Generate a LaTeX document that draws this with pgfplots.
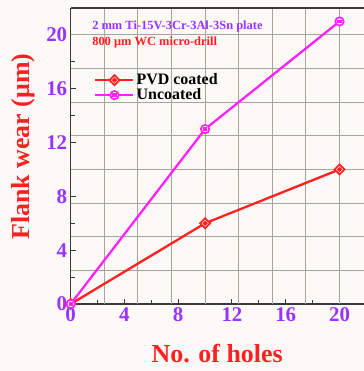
\documentclass[border=0pt]{standalone}
\usepackage{fontspec}
\setmainfont{Liberation Serif}
\usepackage{pgfplots}
\pgfplotsset{compat=1.18}

\definecolor{bgcream}{HTML}{FDF9F6}
\definecolor{tickpurple}{HTML}{9933FF}
\definecolor{wearred}{HTML}{FF2020}
\definecolor{uncmag}{HTML}{FF22FF}
\definecolor{gridgray}{HTML}{A9A39D}
\definecolor{axisgray}{HTML}{3A3A3A}

% open diamond with a small inner diamond
\pgfdeclareplotmark{diamonddot}{%
  \pgfpathmoveto{\pgfqpoint{0pt}{\pgfplotmarksize}}%
  \pgfpathlineto{\pgfqpoint{\pgfplotmarksize}{0pt}}%
  \pgfpathlineto{\pgfqpoint{0pt}{-\pgfplotmarksize}}%
  \pgfpathlineto{\pgfqpoint{-\pgfplotmarksize}{0pt}}%
  \pgfpathclose
  \pgfusepathqfillstroke
  \pgfpathmoveto{\pgfqpoint{0pt}{0.3\pgfplotmarksize}}%
  \pgfpathlineto{\pgfqpoint{0.3\pgfplotmarksize}{0pt}}%
  \pgfpathlineto{\pgfqpoint{0pt}{-0.3\pgfplotmarksize}}%
  \pgfpathlineto{\pgfqpoint{-0.3\pgfplotmarksize}{0pt}}%
  \pgfpathclose
  \pgfusepathqstroke
}
% open circle with a small inner rectangle
\pgfdeclareplotmark{circledot}{%
  \pgfpathcircle{\pgfpointorigin}{\pgfplotmarksize}%
  \pgfusepathqfillstroke
  \pgfpathrectangle{\pgfqpoint{-0.3\pgfplotmarksize}{-0.2\pgfplotmarksize}}{\pgfqpoint{0.6\pgfplotmarksize}{0.4\pgfplotmarksize}}%
  \pgfusepathqstroke
}

\begin{document}
\begin{tikzpicture}
\fill[bgcream] (-70.7bp,-67bp) rectangle (293.3bp,304bp);
\begin{axis}[
  scale only axis, width=293bp, height=296bp,
  at={(0,0)}, anchor=south west,
  xmin=0, xmax=21.8, ymin=0, ymax=22,
  axis x line*=bottom, axis y line*=left,
  axis line style={line width=1.2bp, color=axisgray, -},
  axis background/.style={fill=bgcream},
  xtick={0,4,...,20}, ytick={0,4,...,20},
  minor xtick={2,6,...,18}, minor ytick={2,6,...,18},
  tick style={color=axisgray, line width=1bp},
  major tick length=5bp, minor tick length=4bp,
  tick align=inside,
  extra x ticks={2.5,5,...,20}, extra x tick labels={},
  extra y ticks={2.5,5,...,20}, extra y tick labels={},
  extra tick style={grid=major, major tick length=0pt,
    major grid style={gridgray, line width=1bp}},
  /pgf/number format/assume math mode=true,
  ticklabel style={font=\fontsize{21}{21}\selectfont\bfseries, text=tickpurple},
  xlabel={No. of holes},
  ylabel={Flank wear (μm)},
  label style={font=\fontsize{26}{26}\selectfont\bfseries, text=wearred},
  xlabel style={at={(axis description cs:0.5,-0.196)}, anchor=base},
  ylabel style={at={(axis description cs:-0.1413,0.532)}, anchor=base},
  clip mode=individual,
  legend style={at={(axis description cs:0.08,0.785)}, anchor=north west,
    draw=none, fill=none, font=\fontsize{16}{17}\selectfont\bfseries,
    row sep=-1.5bp, inner sep=0pt},
  legend cell align=left,
  legend image code/.code={%
    \draw[#1, mark repeat=2, mark phase=2]
      plot coordinates {(0bp,0bp) (19bp,0bp) (38bp,0bp)};},
]
\addplot[wearred, line width=2.3bp, mark=diamonddot, mark size=5bp,
  mark options={line width=1.7bp, fill=bgcream, solid}]
  coordinates {(0,0) (10,6) (20,10)};
\addlegendentry{PVD coated}
\addplot[uncmag, line width=2.3bp, mark=circledot, mark size=4.2bp,
  mark options={line width=1.7bp, fill=bgcream, solid}]
  coordinates {(0,0) (10,13) (20,21)};
\addlegendentry{Uncoated}

\draw[axisgray, line width=1.2bp] (rel axis cs:0,1) -- (rel axis cs:1,1);

\node[anchor=west, inner sep=0pt, text=tickpurple,
  font=\fontsize{12.5}{13}\selectfont\bfseries]
  at (axis description cs:0.073,0.936) {2 mm Ti-15V-3Cr-3Al-3Sn plate};
\node[anchor=west, inner sep=0pt, text=wearred,
  font=\fontsize{12.5}{13}\selectfont\bfseries]
  at (axis description cs:0.073,0.885) {800 μm WC micro-drill};
\end{axis}
\pgfresetboundingbox
\useasboundingbox (-70.7bp,-67bp) rectangle (293.3bp,304bp);
\end{tikzpicture}
\end{document}
